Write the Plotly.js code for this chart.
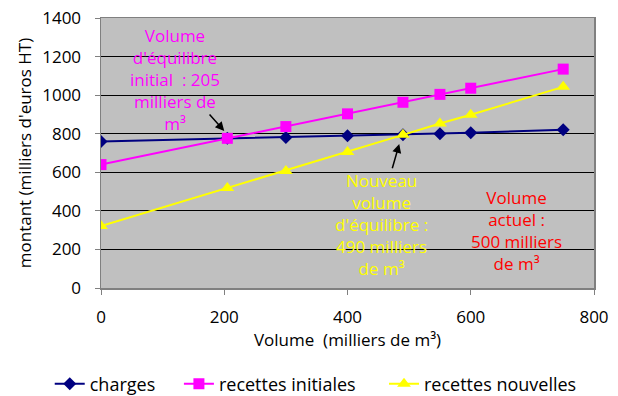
<!DOCTYPE html>
<html><head><meta charset="utf-8">
<script src="https://cdn.plot.ly/plotly-3.0.1.min.js"></script>
<style>html,body{margin:0;padding:0;background:#fff}#chart{width:618px;height:396px}</style>
</head><body><div id="chart"></div>
<script>
const volumes = [0, 205, 300, 400, 490, 550, 600, 750];
const charges = [760, 776, 780, 790, 795, 800, 805, 820];
const recettesInitiales = [640, 776, 837, 903, 963, 1004, 1036, 1135];
const recettesNouvelles = [321, 519, 607, 705, 794, 853, 898, 1043];
const seriesNames = ['charges', 'recettes initiales', 'recettes nouvelles'];
const xTicks = [0, 200, 400, 600, 800];
const yTicks = [0, 200, 400, 600, 800, 1000, 1200, 1400];

const FONT = 'Open Sans, Noto Sans, sans-serif';
const NB = '\u00A0';
const legendPad = [NB.repeat(4), NB.repeat(5), ''];
const traces = [
  {x: volumes, y: charges, name: seriesNames[0] + legendPad[0], mode: 'lines+markers',
   line: {color: '#000080', width: 2}, marker: {symbol: 'diamond', size: 10, color: '#000080'}},
  {x: volumes, y: recettesInitiales, name: seriesNames[1] + legendPad[1], mode: 'lines+markers',
   line: {color: '#FF00FF', width: 2}, marker: {symbol: 'square', size: 11, color: '#FF00FF'}},
  {x: volumes, y: recettesNouvelles, name: seriesNames[2] + legendPad[2], mode: 'lines+markers',
   line: {color: '#FFFF00', width: 2}, marker: {symbol: 'triangle-up', size: 12, color: '#FFFF00'}}
];
const annFont = {family: FONT, size: 17};
const layout = {
  width: 618, height: 396,
  margin: {l: 101, r: 24, t: 18, b: 108, autoexpand: false},
  paper_bgcolor: '#ffffff', plot_bgcolor: '#C0C0C0',
  font: {family: FONT, size: 17, color: '#000'},
  showlegend: true,
  legend: {orientation: 'h', x: -0.104, xanchor: 'left', y: -0.356, yanchor: 'middle',
           font: {family: FONT, size: 18}, itemwidth: 30,
           tracegroupgap: 0, bgcolor: 'rgba(0,0,0,0)'},
  xaxis: {range: [0, 800], tickvals: xTicks, showgrid: false, zeroline: false,
          showline: true, mirror: true, linecolor: '#808080', linewidth: 1.5,
          ticks: 'outside', ticklen: 5, tickcolor: '#808080', ticklabelstandoff: 8,
          tickfont: {family: FONT, size: 17}, automargin: false,
          title: {text: 'Volume  (milliers de m³)', font: {family: FONT, size: 17}, standoff: 4}},
  yaxis: {range: [0, 1400], tickvals: yTicks, showgrid: true, gridcolor: '#000000', gridwidth: 1,
          zeroline: false, showline: true, mirror: true, linecolor: '#808080', linewidth: 1.5,
          ticks: 'outside', ticklen: 5, tickcolor: '#808080', ticklabelstandoff: 10,
          tickfont: {family: FONT, size: 17}, automargin: false,
          title: {text: "montant (milliers d'euros HT)", font: {family: FONT, size: 17}, standoff: 6}},
  annotations: [
    {x: 120, y: 1080, xref: 'x', yref: 'y', showarrow: false,
     text: "Volume<br>d'équilibre<br>initial  : 205<br>milliers de<br>m³",
     font: Object.assign({color: '#FF00FF'}, annFont), align: 'center'},
    {x: 455, y: 330, xref: 'x', yref: 'y', showarrow: false,
     text: "Nouveau<br>volume<br>d'équilibre :<br>490 milliers<br>de m³",
     font: Object.assign({color: '#FFFF00'}, annFont), align: 'center'},
    {x: 675, y: 300, xref: 'x', yref: 'y', showarrow: false,
     text: "Volume<br>actuel :<br>500 milliers<br>de m³",
     font: Object.assign({color: '#FF0000'}, annFont), align: 'center'},
    {x: 200, y: 814, xref: 'x', yref: 'y', ax: 174, ay: 908, axref: 'x', ayref: 'y',
     text: '', showarrow: true, arrowhead: 2, arrowsize: 1.2, arrowwidth: 1.5, arrowcolor: '#000'},
    {x: 484, y: 747, xref: 'x', yref: 'y', ax: 472, ay: 613, axref: 'x', ayref: 'y',
     text: '', showarrow: true, arrowhead: 2, arrowsize: 1.2, arrowwidth: 1.5, arrowcolor: '#000'}
  ]
};
Plotly.newPlot('chart', traces, layout, {displayModeBar: false, staticPlot: true});
</script></body></html>
